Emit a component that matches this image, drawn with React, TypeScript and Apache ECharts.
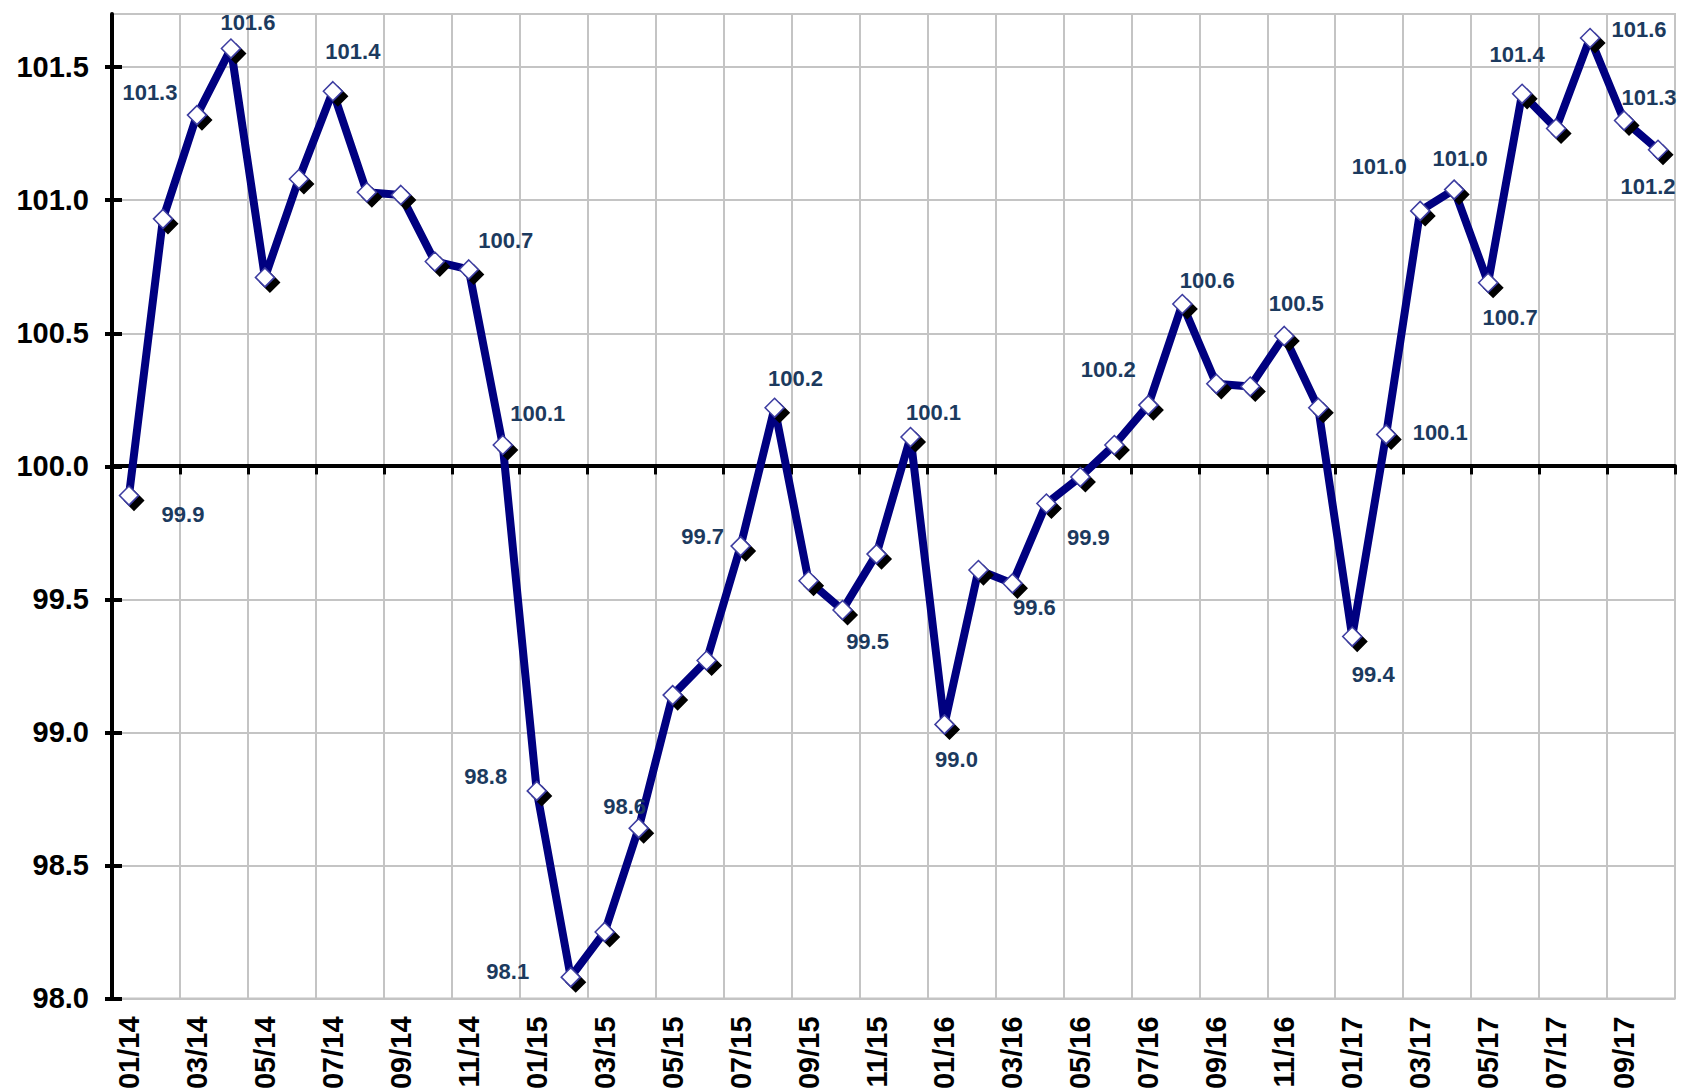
import React, { useEffect, useRef } from 'react';
import * as echarts from 'echarts';

const months = [
  '01/14', '02/14', '03/14', '04/14', '05/14', '06/14', '07/14', '08/14', '09/14', '10/14', '11/14', '12/14',
  '01/15', '02/15', '03/15', '04/15', '05/15', '06/15', '07/15', '08/15', '09/15', '10/15', '11/15', '12/15',
  '01/16', '02/16', '03/16', '04/16', '05/16', '06/16', '07/16', '08/16', '09/16', '10/16', '11/16', '12/16',
  '01/17', '02/17', '03/17', '04/17', '05/17', '06/17', '07/17', '08/17', '09/17', '10/17',
];

const values = [
  99.89, 100.93, 101.32, 101.57, 100.71, 101.08, 101.41, 101.03, 101.02, 100.77, 100.74, 100.08,
  98.78, 98.08, 98.25, 98.64, 99.14, 99.27, 99.7, 100.22, 99.57, 99.46, 99.67, 100.11,
  99.03, 99.61, 99.56, 99.86, 99.96, 100.08, 100.23, 100.61, 100.31, 100.3, 100.49, 100.22,
  99.36, 100.12, 100.96, 101.04, 100.69, 101.4, 101.27, 101.61, 101.3, 101.19,
];

const yTicks = [98.0, 98.5, 99.0, 99.5, 100.0, 100.5, 101.0, 101.5];
const Y_MIN = 98.0;
const Y_MAX = 101.7;
const BASE_LINE = 100.0;

// label placement (pixel offset of label centre from the marker centre)
const labelOffsets: Record<string, [number, number]> = {
  '01/14': [54, 19],
  '03/14': [-47, -23],
  '04/14': [17, -26],
  '07/14': [20, -40],
  '11/14': [37, -29],
  '12/14': [35, -32],
  '01/15': [-51, -14],
  '02/15': [-63, -6],
  '04/15': [-14, -22],
  '07/15': [-38, -10],
  '08/15': [21, -29],
  '10/15': [25, 32],
  '12/15': [23, -25],
  '01/16': [12, 35],
  '03/16': [22, 24],
  '04/16': [42, 34],
  '07/16': [-40, -36],
  '08/16': [25, -24],
  '11/16': [12, -32],
  '01/17': [21, 38],
  '02/17': [54, -2],
  '03/17': [-41, -44],
  '04/17': [6, -31],
  '05/17': [22, 35],
  '06/17': [-5, -39],
  '08/17': [49, -8],
  '09/17': [25, -23],
  '10/17': [-10, 37],
};

const W = 1684;
const H = 1092;
const GRID = { left: 112, right: 9, top: 14, bottom: 92 };
const FONT = 'Liberation Sans, Arial, Helvetica, sans-serif';
const GRID_GREY = '#c4c4c4';

export default function App() {
  const ref = useRef<HTMLDivElement>(null);

  useEffect(() => {
    document.body.style.margin = '0';
    const chart = echarts.init(ref.current!, null, { renderer: 'svg' });
    const plotH = H - GRID.top - GRID.bottom;
    const baseOffset = -((BASE_LINE - Y_MIN) / (Y_MAX - Y_MIN)) * plotH;

    const seriesData = values.map((v, i) => {
      const off = labelOffsets[months[i]];
      if (!off) return { value: v, label: { show: false } };
      return {
        value: v,
        label: { show: true, position: 'inside', offset: off },
      };
    });

    chart.setOption({
      animation: false,
      backgroundColor: '#ffffff',
      grid: {
        ...GRID,
        show: true,
        borderColor: GRID_GREY,
        borderWidth: 2,
        backgroundColor: 'transparent',
        z: 0,
      },
      xAxis: [
        {
          // black axis line crossing at 100.0 with ticks
          type: 'category',
          data: months,
          boundaryGap: true,
          position: 'bottom',
          offset: baseOffset,
          axisLine: { show: true, lineStyle: { color: '#000000', width: 4 } },
          axisTick: {
            show: true,
            interval: 1,
            length: 9,
            inside: false,
            lineStyle: { color: '#000000', width: 3 },
          },
          axisLabel: { show: false },
          splitLine: { show: false },
          z: 4,
        },
        {
          // bottom labels + vertical grid lines
          type: 'category',
          data: months,
          boundaryGap: true,
          position: 'bottom',
          offset: 0,
          axisLine: { show: false },
          axisTick: { show: false },
          splitLine: { show: true, interval: 1, lineStyle: { color: GRID_GREY, width: 2 } },
          axisLabel: {
            show: true,
            interval: 1,
            rotate: 90,
            margin: 18,
            color: '#000000',
            fontSize: 29,
            fontWeight: 'bold',
            fontFamily: FONT,
          },
          z: 0,
        },
      ],
      yAxis: [
        {
          type: 'value',
          min: Y_MIN,
          max: Y_MAX,
          interval: 0.5,
          position: 'left',
          axisLine: { show: true, lineStyle: { color: '#000000', width: 4 } },
          axisTick: {
            show: true,
            length: 7,
            customValues: yTicks,
            lineStyle: { color: '#000000', width: 4 },
          },
          axisLabel: {
            show: true,
            customValues: yTicks,
            margin: 23,
            color: '#000000',
            fontSize: 29,
            fontWeight: 'bold',
            fontFamily: FONT,
            formatter: (v: number) => v.toFixed(1),
          },
          splitLine: { show: false },
          z: 5,
        },
        {
          // inner half of the crossing ticks + horizontal grid lines
          type: 'value',
          min: Y_MIN,
          max: Y_MAX,
          interval: 0.5,
          position: 'left',
          axisLine: { show: false },
          axisTick: {
            show: true,
            inside: true,
            length: 10,
            customValues: yTicks,
            lineStyle: { color: '#000000', width: 4 },
          },
          axisLabel: { show: false },
          splitLine: { show: true, lineStyle: { color: GRID_GREY, width: 2 } },
          z: 0,
        },
      ],
      series: [
        {
          type: 'line',
          xAxisIndex: 0,
          yAxisIndex: 0,
          data: seriesData,
          symbol: 'diamond',
          symbolSize: 19,
          showAllSymbol: true,
          lineStyle: { color: '#000080', width: 8, join: 'round' },
          itemStyle: {
            color: {
              type: 'radial',
              x: 0.5,
              y: 0.5,
              r: 0.6,
              colorStops: [
                { offset: 0, color: '#ffffff' },
                { offset: 0.6, color: '#ffffff' },
                { offset: 1, color: '#b8b8e8' },
              ],
            },
            borderColor: '#3c3ca0',
            borderWidth: 1.5,
            shadowColor: 'rgba(0,0,0,1)',
            shadowOffsetX: 5,
            shadowOffsetY: 5,
            shadowBlur: 1,
          },
          label: {
            color: '#1c3a5e',
            fontSize: 22,
            fontWeight: 'bold',
            fontFamily: FONT,
            formatter: (p: any) => Number(p.value).toFixed(1),
          },
          emphasis: { disabled: true },
          z: 6,
        },
      ],
    });

    return () => chart.dispose();
  }, []);

  return <div ref={ref} style={{ width: W, height: H }} />;
}
